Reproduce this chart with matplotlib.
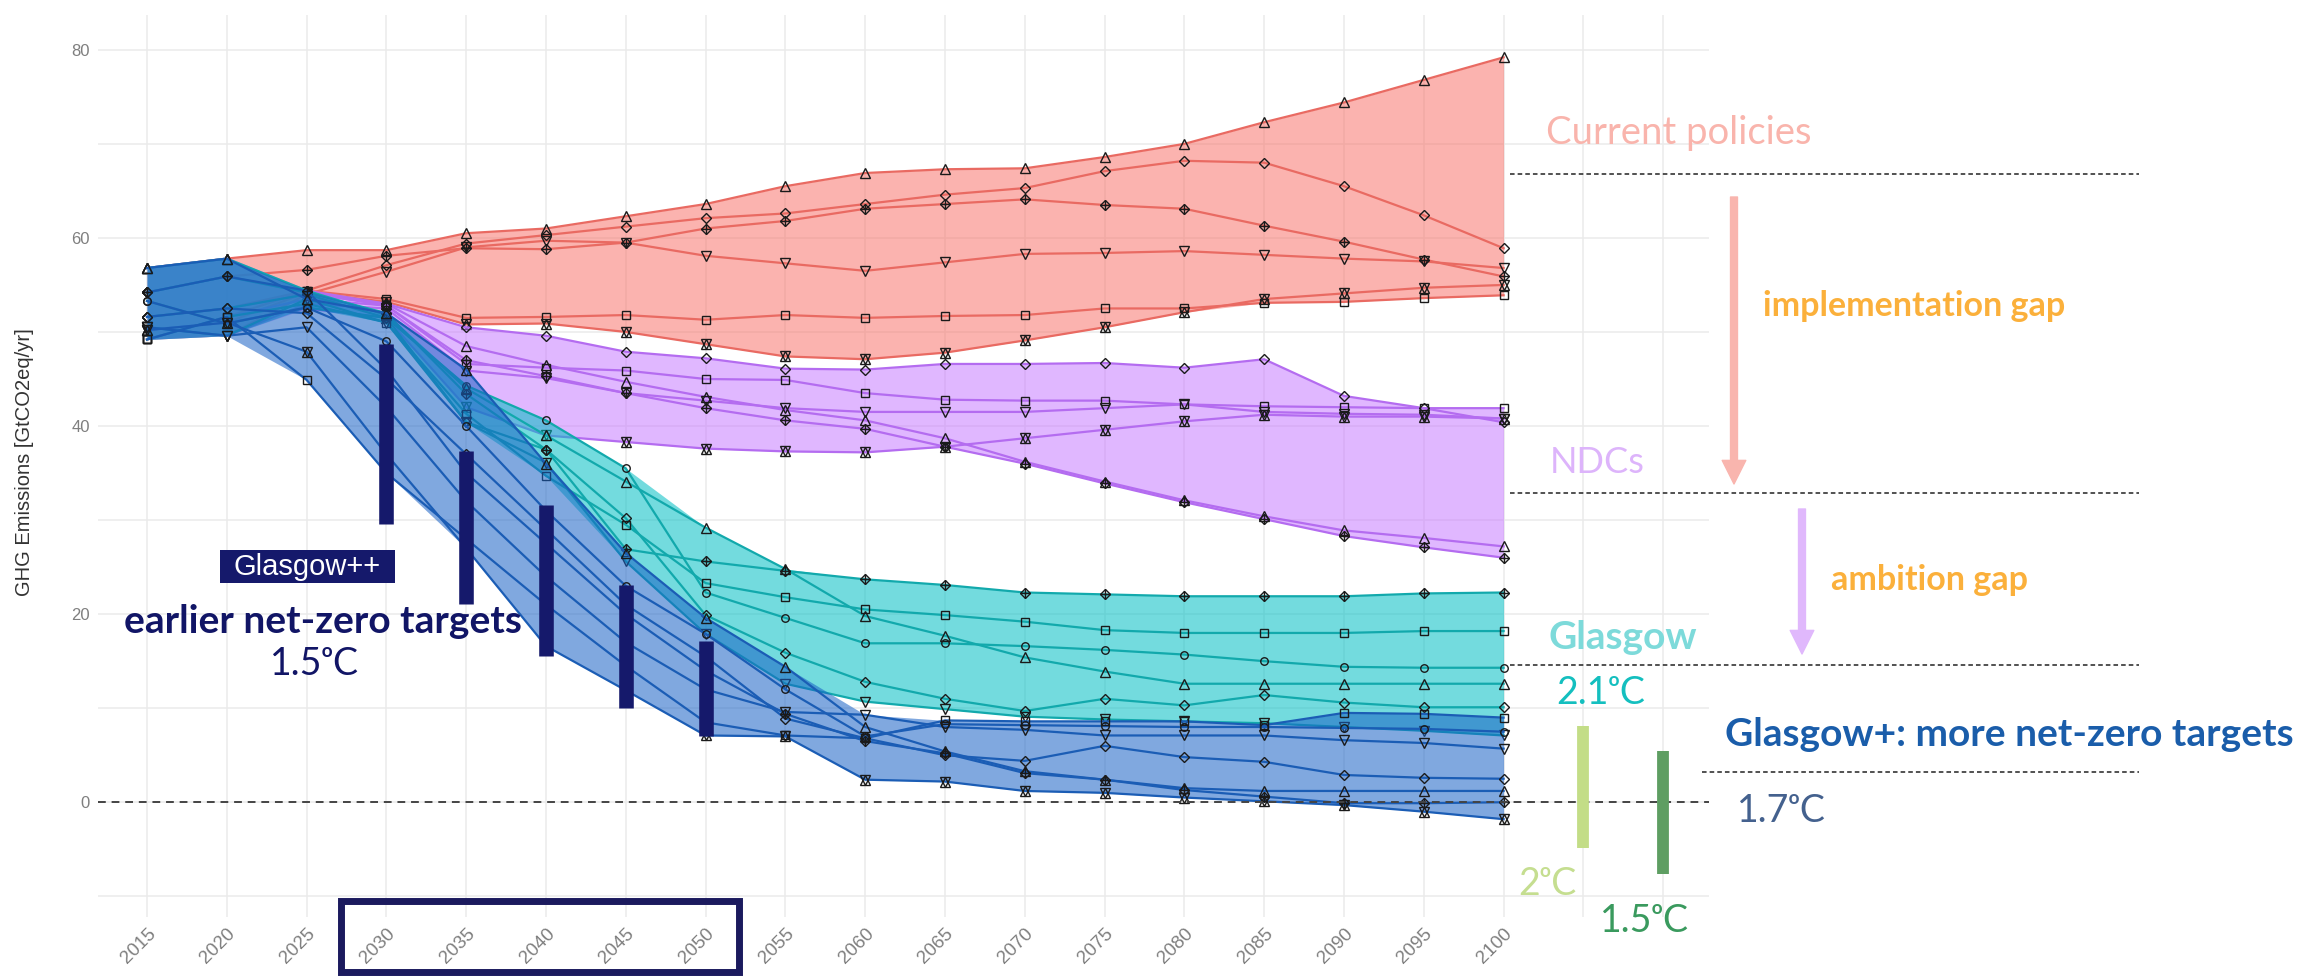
import numpy as np
import matplotlib
matplotlib.use('Agg')
import matplotlib.pyplot as plt
from matplotlib.lines import Line2D
from matplotlib.patches import Rectangle

W, H = 2318, 980

years = [2015, 2020, 2025, 2030, 2035, 2040, 2045, 2050, 2055,
         2060, 2065, 2070, 2075, 2080, 2085, 2090, 2095, 2100]

# Current policies
cp_tri  = [56.8, 57.8, 58.7, 58.7, 60.5, 61.0, 62.3, 63.6, 65.5, 66.9, 67.3, 67.4, 68.6, 70.0, 72.3, 74.4, 76.8, 79.2]
cp_dia  = [51.6, 52.5, 54.4, 57.1, 59.4, 60.3, 61.2, 62.1, 62.6, 63.6, 64.6, 65.3, 67.1, 68.2, 68.0, 65.5, 62.4, 58.9]
cp_pdia = [54.2, 55.9, 56.6, 58.1, 58.9, 58.8, 59.5, 61.0, 61.8, 63.1, 63.6, 64.1, 63.5, 63.1, 61.3, 59.6, 57.7, 55.9]
cp_dtri = [50.5, 49.6, 54.0, 56.4, 59.0, 59.7, 59.5, 58.1, 57.3, 56.5, 57.4, 58.3, 58.4, 58.6, 58.2, 57.8, 57.5, 56.8]
cp_sq   = [49.2, 51.6, 54.4, 53.5, 51.5, 51.6, 51.8, 51.3, 51.8, 51.5, 51.7, 51.8, 52.5, 52.5, 53.1, 53.2, 53.6, 53.9]
cp_hex  = [50.2, 51.0, 54.2, 53.2, 50.8, 50.9, 50.0, 48.7, 47.4, 47.1, 47.8, 49.1, 50.5, 52.1, 53.5, 54.1, 54.7, 55.0]

# NDCs
nd_dia  = [51.6, 52.5, 54.0, 53.0, 50.5, 49.6, 47.9, 47.2, 46.1, 46.0, 46.6, 46.6, 46.7, 46.2, 47.1, 43.2, 41.9, 40.4]
nd_sq   = [49.2, 51.6, 53.5, 52.8, 46.6, 46.2, 45.9, 45.0, 44.9, 43.5, 42.8, 42.7, 42.7, 42.3, 42.1, 42.0, 41.9, 41.9]
nd_dtri = [50.5, 49.6, 53.0, 52.5, 45.9, 45.1, 43.5, 42.7, 41.9, 41.5, 41.5, 41.5, 41.9, 42.3, 41.5, 41.3, 41.2, 40.8]
nd_hex  = [50.2, 51.0, 52.5, 51.5, 42.0, 39.0, 38.3, 37.6, 37.3, 37.2, 37.8, 38.7, 39.6, 40.5, 41.2, 41.0, 41.0, 40.8]
nd_tri  = [56.8, 57.8, 54.4, 53.0, 48.5, 46.5, 44.7, 43.1, 41.7, 40.6, 38.7, 36.2, 34.1, 32.1, 30.4, 28.9, 28.1, 27.2]
nd_pdia = [54.2, 55.9, 54.2, 52.8, 47.0, 45.3, 43.5, 41.9, 40.6, 39.7, 37.8, 36.0, 33.9, 31.9, 30.1, 28.3, 27.1, 26.0]

# Glasgow
gl_pdia = [54.2, 55.9, 54.2, 52.0, 43.4, 37.5, 26.9, 25.6, 24.6, 23.7, 23.1, 22.3, 22.1, 21.9, 21.9, 21.9, 22.2, 22.3]
gl_sq   = [49.2, 51.6, 53.0, 51.0, 41.3, 34.7, 29.5, 23.3, 21.8, 20.5, 19.9, 19.2, 18.3, 18.0, 18.0, 18.0, 18.2, 18.2]
gl_circ = [53.3, 50.9, 52.6, 51.5, 44.3, 40.6, 35.5, 22.3, 19.6, 16.9, 16.9, 16.6, 16.2, 15.7, 15.0, 14.4, 14.3, 14.3]
gl_tri  = [56.8, 57.8, 54.4, 51.8, 44.0, 39.0, 34.1, 29.2, 24.8, 19.8, 17.7, 15.4, 13.9, 12.6, 12.6, 12.6, 12.6, 12.6]
gl_dia  = [51.6, 52.5, 54.0, 51.5, 40.4, 37.5, 30.2, 19.9, 15.9, 12.8, 11.0, 9.7, 11.0, 10.3, 11.4, 10.6, 10.1, 10.1]
gl_dtri = [50.5, 49.6, 53.5, 51.0, 40.4, 36.1, 25.6, 17.9, 12.6, 10.7, 9.9, 9.1, 8.8, 8.6, 8.4, 8.0, 7.6, 7.1]

# Glasgow+
gp_tri  = [56.8, 57.8, 53.5, 52.0, 46.0, 36.0, 26.5, 19.6, 14.4, 8.0, 5.4, 3.3, 2.4, 1.5, 1.2, 1.2, 1.2, 1.2]
gp_circ = [53.3, 50.9, 52.6, 49.0, 40.0, 31.0, 23.0, 17.9, 12.0, 7.0, 8.3, 8.2, 8.1, 8.0, 8.0, 7.9, 7.8, 7.5]
gp_dia  = [51.6, 52.5, 52.0, 45.0, 37.0, 29.0, 21.0, 15.5, 8.9, 6.8, 5.0, 4.4, 6.0, 4.8, 4.3, 2.9, 2.6, 2.5]
gp_pdia = [54.2, 55.9, 54.4, 46.0, 35.0, 27.5, 20.0, 14.0, 9.4, 6.5, 5.2, 3.1, 2.4, 1.3, 0.6, -0.1, -0.1, 0.0]
gp_dtri = [50.5, 49.6, 50.5, 42.0, 32.0, 24.0, 17.0, 12.0, 9.6, 9.3, 8.0, 7.7, 7.1, 7.1, 7.1, 6.6, 6.3, 5.7]
gp_sq   = [49.2, 51.6, 44.9, 35.0, 28.0, 21.0, 14.5, 8.5, 7.1, 6.8, 8.7, 8.6, 8.6, 8.6, 8.2, 9.5, 9.4, 9.0]
gp_hex  = [50.2, 51.0, 47.9, 37.0, 27.0, 16.6, 11.9, 7.1, 7.0, 2.4, 2.2, 1.2, 1.0, 0.5, 0.1, -0.3, -1.0, -1.8]

# Glasgow++ ranges (earlier net-zero targets)
gpp_years = [2030, 2035, 2040, 2045, 2050]
gpp_low   = [29.6, 21.1, 15.6, 10.0, 7.0]
gpp_high  = [48.7, 37.3, 31.6, 23.1, 17.1]

# 2100 temperature ranges
temp_years = [2105, 2110]
temp_low   = [-4.9, -7.6]
temp_high  = [8.1, 5.5]

tick_years = [2015, 2020, 2025, 2030, 2035, 2040, 2045, 2050, 2055, 2060,
              2065, 2070, 2075, 2080, 2085, 2090, 2095, 2100, 2105, 2110]

plt.rcParams['font.family'] = ['Lato', 'DejaVu Sans']

def fx(px):
    return px / W

def fy(py):
    return 1 - py / H

fig = plt.figure(figsize=(W / 100, H / 100), dpi=100)
ax = fig.add_axes([fx(98), fy(917), fx(1709) - fx(98), (917 - 15) / H])

markers = {
    'tri': [('^', 7.0)], 'dtri': [('v', 7.0)], 'dia': [('D', 5.2)],
    'pdia': [('D', 5.6), ('+', 7.5)], 'sq': [('s', 5.2)],
    'hex': [('^', 7.0), ('v', 7.0)], 'circ': [('o', 5.4)],
}

groups = [
    ('#F8766D', '#E96A62', {'tri': cp_tri, 'dia': cp_dia, 'pdia': cp_pdia,
                            'dtri': cp_dtri, 'sq': cp_sq, 'hex': cp_hex}),
    ('#C77CFF', '#B46CF0', {'dia': nd_dia, 'sq': nd_sq, 'dtri': nd_dtri,
                            'hex': nd_hex, 'tri': nd_tri, 'pdia': nd_pdia}),
    ('#00BFC4', '#12A9AC', {'pdia': gl_pdia, 'sq': gl_sq, 'circ': gl_circ,
                            'tri': gl_tri, 'dia': gl_dia, 'dtri': gl_dtri}),
    ('#1862C6', '#1B5DB5', {'tri': gp_tri, 'circ': gp_circ, 'dia': gp_dia,
                            'pdia': gp_pdia, 'dtri': gp_dtri, 'sq': gp_sq,
                            'hex': gp_hex}),
]

for i, (fill_c, line_c, series) in enumerate(groups):
    z = 2 + i
    arr = np.array(list(series.values()))
    ax.fill_between(years, arr.min(axis=0), arr.max(axis=0), color=fill_c,
                    alpha=0.55, lw=0, zorder=z)
    for key, vals in series.items():
        ax.plot(years, vals, color=line_c, lw=1.6, zorder=z + 0.1)
        for m, s in markers[key]:
            ax.plot(years, vals, ls='none', marker=m, ms=s, mfc='none',
                    mec='#1a1a1a', mew=1.0, zorder=z + 0.2)

ax.axhline(0, color='#444444', lw=1.4, ls=(0, (4, 3)), zorder=5.5)

# Glasgow++ bars
ax.vlines(gpp_years, gpp_low, gpp_high, color='#15196B', lw=10.5,
          capstyle='butt', zorder=7)
# temperature bars
ax.vlines(temp_years, temp_low, temp_high, color=['#C3DD87', '#5E9E62'],
          lw=8.5, capstyle='butt', zorder=7)

ax.set_xlim(2011.93, 2112.87)
ax.set_ylim(-12.2, 83.7)
ax.set_xticks(tick_years)
ax.set_xticklabels([str(y) if y <= 2100 else '' for y in tick_years],
                   rotation=45, ha='right', va='top', rotation_mode='anchor',
                   fontsize=13.5, color='#7f7f7f', family='Liberation Sans')
ax.set_yticks([0, 20, 40, 60, 80])
ax.set_yticks([-10, 10, 30, 50, 70], minor=True)
ax.set_yticklabels(['0', '20', '40', '60', '80'], fontsize=12,
                   color='#7f7f7f', family='Liberation Sans')
ax.tick_params(axis='both', which='both', length=0)
ax.tick_params(axis='x', pad=6)
ax.tick_params(axis='y', pad=6)
ax.grid(True, which='both', color='#EBEBEB', lw=1.1)
ax.set_axisbelow(True)
for s in ax.spines.values():
    s.set_visible(False)

fig.text(fx(25), fy(462), 'GHG Emissions [GtCO2eq/yr]', rotation=90,
         ha='center', va='center', fontsize=14.5, color='#333333',
         family='Liberation Sans')

# right-hand annotations
for y in [174, 493, 665]:
    fig.add_artist(Line2D([fx(1510), fx(2139)], [fy(y), fy(y)],
                          transform=fig.transFigure, color='#222222', lw=1.1,
                          ls=(0, (3, 2))))
fig.add_artist(Line2D([fx(1702), fx(2139)], [fy(772), fy(772)],
                      transform=fig.transFigure, color='#222222', lw=1.1,
                      ls=(0, (3, 2))))

ax.annotate('', xy=(fx(1734), fy(484)), xytext=(fx(1734), fy(197)),
            xycoords='figure fraction', textcoords='figure fraction',
            annotation_clip=False,
            arrowprops=dict(width=5, headwidth=17, headlength=17,
                            color='#F9B5AE', shrink=0))
ax.annotate('', xy=(fx(1802), fy(654)), xytext=(fx(1802), fy(509)),
            xycoords='figure fraction', textcoords='figure fraction',
            annotation_clip=False,
            arrowprops=dict(width=5, headwidth=17, headlength=17,
                            color='#E0B8FC', shrink=0))

fig.text(fx(1546), fy(144), 'Current policies', fontsize=27.5, color='#F9B4AC')
fig.text(fx(1550), fy(473), 'NDCs', fontsize=26, color='#DDB4FB')
fig.text(fx(1763), fy(316), 'implementation gap', fontsize=24.5,
         fontweight='bold', color='#FBB03B')
fig.text(fx(1831), fy(590), 'ambition gap', fontsize=24.5,
         fontweight='bold', color='#FBB03B')
fig.text(fx(1548), fy(649), 'Glasgow', fontsize=28, fontweight='bold',
         color='#7DDADA')
fig.text(fx(1556), fy(704), '2.1ᵒC', fontsize=27, color='#14BFBF')
fig.text(fx(1725), fy(746), 'Glasgow+: more net-zero targets', fontsize=28,
         fontweight='bold', color='#1A5DAA')
fig.text(fx(1737), fy(822), '1.7ᵒC', fontsize=27, color='#44618E')
fig.text(fx(1518), fy(895), '2ᵒC', fontsize=27, color='#C5DE90')
fig.text(fx(1600), fy(932), '1.5ᵒC', fontsize=27, color='#3A9A5E')

# left annotations
fig.add_artist(Rectangle((fx(220), fy(583)), fx(395) - fx(220), (583 - 550) / H,
                         transform=fig.transFigure, fc='#15196B', ec='none'))
fig.text(fx(307), fy(567), 'Glasgow++', ha='center', va='center',
         fontsize=21, color='white', family='Liberation Sans')
fig.text(fx(124), fy(633), 'earlier net-zero targets', fontsize=28,
         fontweight='bold', color='#111566')
fig.text(fx(270), fy(675), '1.5ᵒC', fontsize=27, color='#111566')

fig.add_artist(Rectangle((fx(340.5), fy(972)), fx(738.5) - fx(340.5),
                         (972 - 900.5) / H, transform=fig.transFigure,
                         fill=False, ec='#1B1A5E', lw=5))

fig.savefig('out.png', dpi=100)
